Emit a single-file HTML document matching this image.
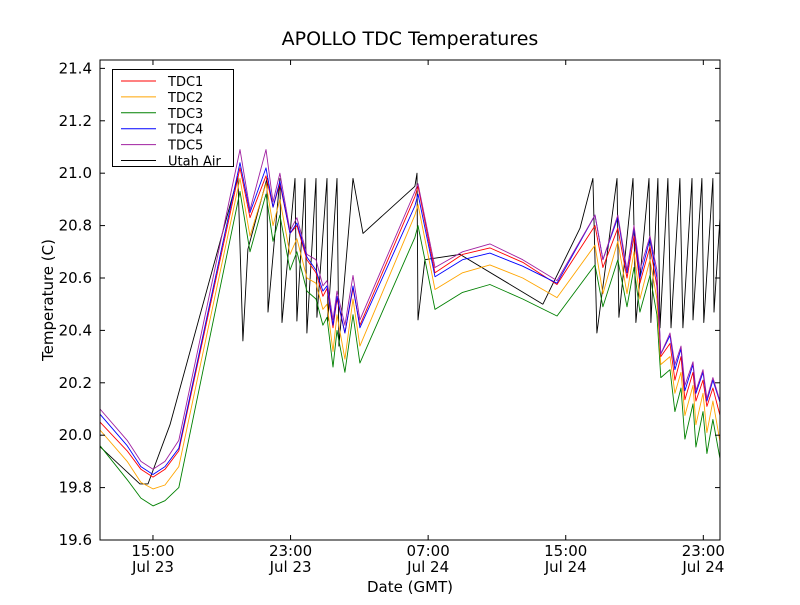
<!DOCTYPE html>
<html><head><meta charset="utf-8"><style>
body{margin:0;background:#fff}
svg text{font-family:"DejaVu Sans","Liberation Sans",sans-serif;fill:#000}
</style></head><body>
<svg id="chart" width="800" height="600" xmlns="http://www.w3.org/2000/svg">
<rect x="0" y="0" width="800" height="600" fill="#fff"/>
<text x="410" y="45" font-size="19" text-anchor="middle">APOLLO TDC Temperatures</text>
<g id="plot"></g>
<rect x="100" y="60" width="620" height="480" fill="none" stroke="#000" stroke-width="1"/>
<g id="axes"></g>
<text x="410" y="592" font-size="15" text-anchor="middle">Date (GMT)</text>
<text x="0" y="0" font-size="15" text-anchor="middle" transform="translate(53,300) rotate(-90)">Temperature (C)</text>
<g id="legend"></g>
</svg>
<script>
// hours since 12:00 Jul 23
const tdcTimes=[-0.08,1.5,2.3,3,3.7,4.5,8.06,8.64,9.57,9.98,10.38,10.97,11.37,11.95,12.48,12.88,13.12,13.47,13.70,14.16,14.63,15.03,18.23,18.41,19.40,21.0,22.59,24.5,26.49,28.70,29.16,30.03,30.56,30.97,31.31,31.90,32.30,32.53,33.06,33.35,33.70,33.93,34.40,34.57,34.98,35.21,35.56,35.97];
const tdc1=[20.05,19.94,19.87,19.84,19.87,19.94,21.02,20.83,20.99,20.87,20.96,20.77,20.80,20.67,20.62,20.53,20.56,20.41,20.52,20.39,20.56,20.42,20.91,20.95,20.62,20.69,20.715,20.66,20.575,20.80,20.64,20.79,20.60,20.76,20.58,20.72,20.57,20.30,20.35,20.21,20.30,20.135,20.24,20.13,20.21,20.11,20.18,20.075];
const tdc2=[20.02,19.90,19.82,19.795,19.81,19.88,20.98,20.76,20.96,20.80,20.90,20.69,20.75,20.60,20.58,20.48,20.50,20.32,20.46,20.29,20.52,20.34,20.84,20.88,20.556,20.62,20.65,20.60,20.525,20.725,20.54,20.74,20.54,20.70,20.52,20.67,20.52,20.27,20.30,20.16,20.24,20.075,20.19,20.04,20.16,20.01,20.13,19.975];
const tdc3=[19.96,19.83,19.76,19.73,19.75,19.80,20.93,20.70,20.92,20.74,20.84,20.63,20.70,20.55,20.52,20.42,20.45,20.26,20.40,20.24,20.46,20.275,20.755,20.80,20.48,20.545,20.575,20.52,20.455,20.65,20.49,20.67,20.49,20.64,20.47,20.61,20.46,20.22,20.25,20.09,20.18,19.985,20.12,19.955,20.09,19.93,20.06,19.91];
const tdc4=[20.08,19.96,19.88,19.85,19.88,19.95,21.04,20.85,21.02,20.87,20.97,20.77,20.81,20.68,20.63,20.55,20.57,20.42,20.53,20.39,20.57,20.41,20.875,20.92,20.605,20.67,20.695,20.645,20.58,20.84,20.67,20.83,20.62,20.79,20.60,20.75,20.60,20.31,20.38,20.25,20.33,20.17,20.27,20.16,20.24,20.13,20.21,20.125];
const tdc5=[20.10,19.98,19.90,19.87,19.90,19.98,21.09,20.86,21.09,20.89,21.00,20.78,20.83,20.69,20.67,20.57,20.59,20.44,20.55,20.42,20.61,20.44,20.93,20.96,20.64,20.70,20.73,20.67,20.59,20.84,20.67,20.84,20.63,20.80,20.63,20.76,20.63,20.31,20.39,20.27,20.34,20.19,20.28,20.17,20.25,20.14,20.22,20.13];
const airTimes=[-0.08,2.24,2.71,3.99,7.94,8.23,8.52,9.63,9.69,10.38,10.50,11.26,11.37,11.84,11.95,12.48,12.53,13.12,13.17,13.70,13.81,14.63,15.21,18.23,18.35,18.41,18.81,20.85,25.67,27.83,28.58,28.81,29.98,30.09,30.91,31.08,31.84,31.95,32.36,32.48,32.94,33.12,33.64,33.81,34.34,34.40,34.92,35.03,35.56,35.62,35.97];
const utahAir=[19.956,19.814,19.814,20.04,20.987,20.36,20.71,20.98,20.47,20.98,20.43,20.98,20.436,20.98,20.39,20.98,20.45,20.98,20.436,20.98,20.34,20.98,20.77,20.95,21.0,20.44,20.67,20.69,20.50,20.79,20.98,20.39,20.98,20.45,20.98,20.43,20.98,20.43,20.98,20.41,20.98,20.41,20.98,20.41,20.98,20.44,20.98,20.43,20.98,20.47,20.83];
const yTicks=[19.6,19.8,20.0,20.2,20.4,20.6,20.8,21.0,21.2,21.4];
const xTickTimes=[3,11,19,27,35];
const xTickTimeLabels=["15:00","23:00","07:00","15:00","23:00"];
const xTickDateLabels=["Jul 23","Jul 23","Jul 24","Jul 24","Jul 24"];
const seriesNames=["TDC1","TDC2","TDC3","TDC4","TDC5","Utah Air"];

const X0=100,X1=720,Y0=540,Y1=60,TMIN=-0.08,TMAX=35.97,VMIN=19.6,VMAX=21.432;
const sx=t=>X0+(t-TMIN)/(TMAX-TMIN)*(X1-X0);
const sy=v=>Y0-(v-VMIN)/(VMAX-VMIN)*(Y0-Y1);
const NS="http://www.w3.org/2000/svg";
const plot=document.getElementById('plot'),axes=document.getElementById('axes'),legend=document.getElementById('legend');
function mk(tag,attrs,parent){const e=document.createElementNS(NS,tag);for(const k in attrs)e.setAttribute(k,attrs[k]);parent.appendChild(e);return e;}

const series=[[tdcTimes,tdc1,'#ff0000','tdc1-line'],[tdcTimes,tdc2,'#ffa500','tdc2-line'],[tdcTimes,tdc3,'#008000','tdc3-line'],[tdcTimes,tdc4,'#0000ff','tdc4-line'],[tdcTimes,tdc5,'#a020a0','tdc5-line'],[airTimes,utahAir,'#000000','utah-air-line']];
const order=[5,2,1,0,3,4];
order.forEach(i=>{const s=series[i];
  const d=s[1].map((v,j)=>(j?'L':'M')+sx(s[0][j]).toFixed(1)+','+sy(v).toFixed(1)).join('');
  const p=mk('path',{d:d,fill:'none',stroke:s[2],'stroke-width':0.9,'stroke-linejoin':'round'},plot);
  
  
});

yTicks.forEach(v=>{const y=sy(v);
  mk('line',{x1:X0,x2:X0+5,y1:y,y2:y,stroke:'#000'},axes);
  mk('line',{x1:X1-5,x2:X1,y1:y,y2:y,stroke:'#000'},axes);
  const t=mk('text',{x:X0-8,y:y+5,'font-size':15,'text-anchor':'end'},axes);
  t.textContent=v.toFixed(1);
  
  
});
xTickTimes.forEach((tt,i)=>{const x=sx(tt);
  mk('line',{x1:x,x2:x,y1:Y0,y2:Y0-5,stroke:'#000'},axes);
  mk('line',{x1:x,x2:x,y1:Y1,y2:Y1+5,stroke:'#000'},axes);
  const a=mk('text',{x:x,y:Y0+16,'font-size':15,'text-anchor':'middle'},axes);
  a.textContent=xTickTimeLabels[i];
  
  
  const b=mk('text',{x:x,y:Y0+32,'font-size':15,'text-anchor':'middle'},axes);
  b.textContent=xTickDateLabels[i];
  
  
});

const box=mk('rect',{x:112.5,y:69.5,width:121,height:97,fill:'#fff',stroke:'#000','stroke-width':1},legend);


seriesNames.forEach((n,i)=>{const y=81+i*15.9;
  const l=mk('line',{x1:121,x2:156,y1:y,y2:y,stroke:series[i][2],'stroke-width':1},legend);
  
  
  const t=mk('text',{x:168,y:y+5,'font-size':13},legend);
  t.textContent=n;
  
  
});
</script>
</body></html>
